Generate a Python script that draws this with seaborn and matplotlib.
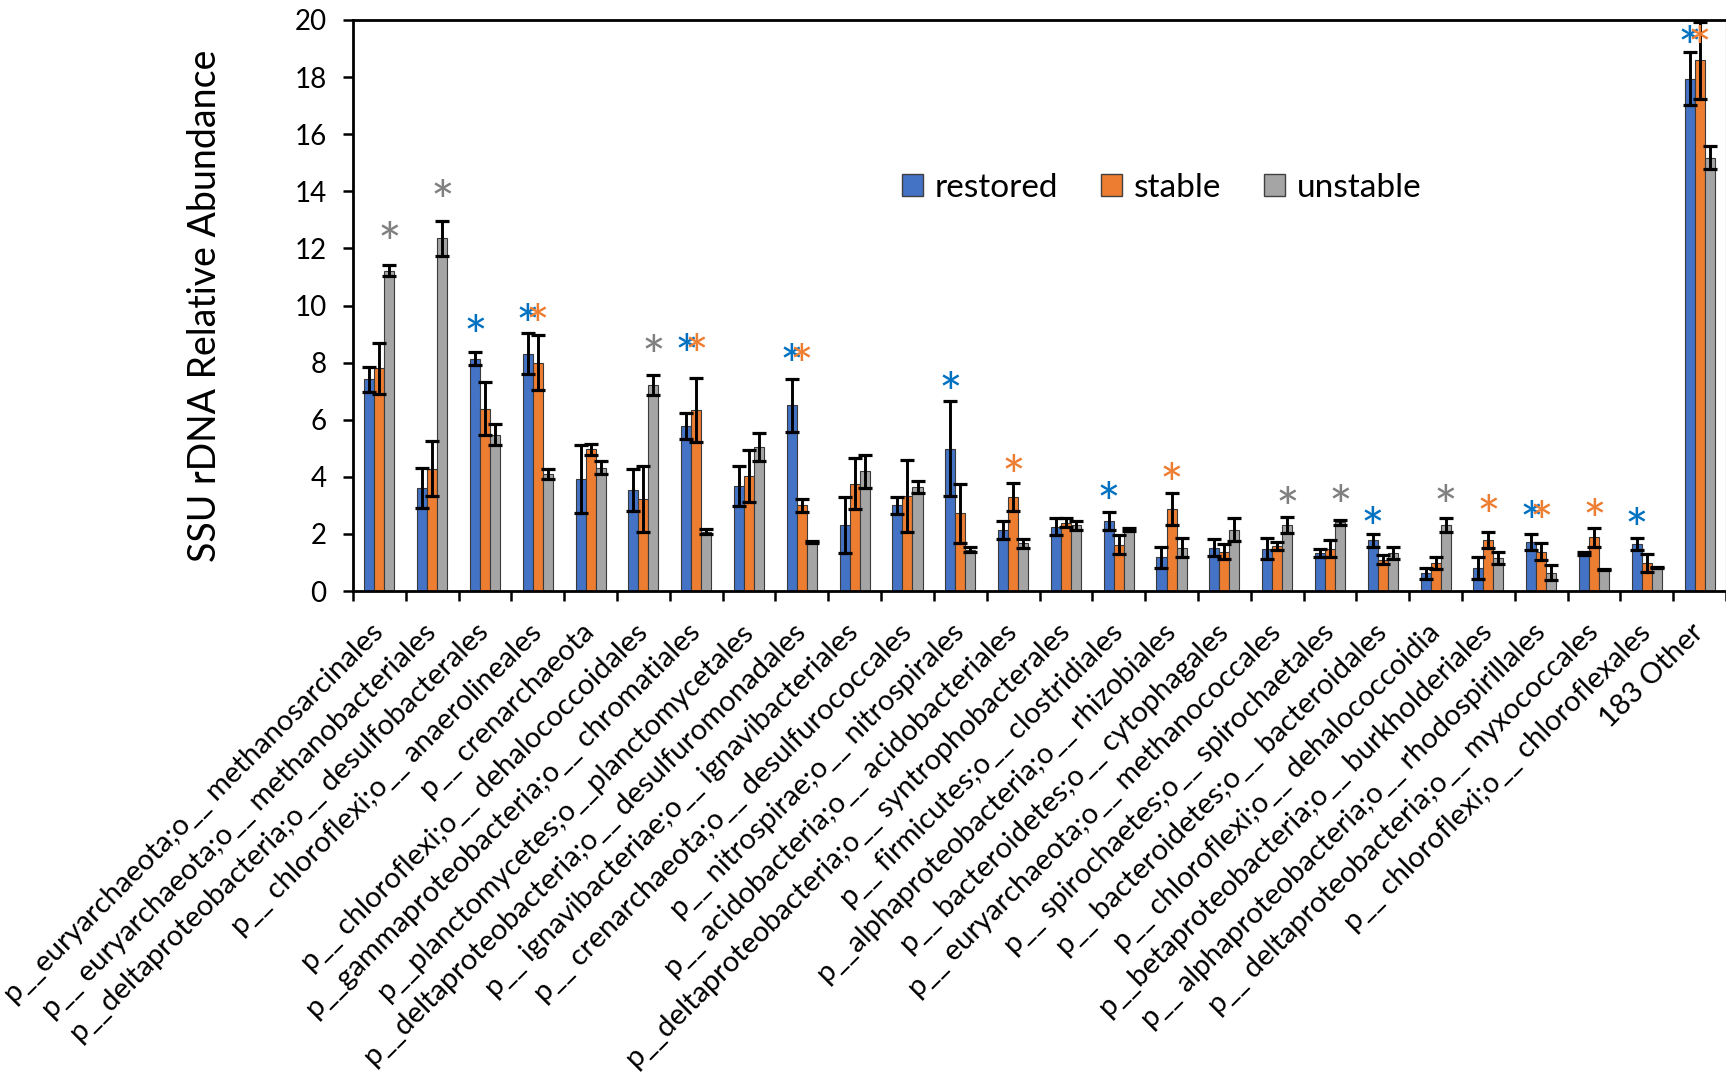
import numpy as np
import pandas as pd
import matplotlib
matplotlib.use("Agg")
import matplotlib.pyplot as plt
import seaborn as sns
from matplotlib.patches import Patch

categories = [
    "p__euryarchaeota;o__ methanosarcinales",
    "p__ euryarchaeota;o__ methanobacteriales",
    "p__deltaproteobacteria;o__ desulfobacterales",
    "p__ chloroflexi;o__ anaerolineales",
    "p__ crenarchaeota",
    "p__ chloroflexi;o__ dehalococcoidales",
    "p__gammaproteobacteria;o__ chromatiales",
    "p__planctomycetes;o__planctomycetales",
    "p__deltaproteobacteria;o__ desulfuromonadales",
    "p__ ignavibacteriae;o__ ignavibacteriales",
    "p__ crenarchaeota;o__ desulfurococcales",
    "p__ nitrospirae;o__ nitrospirales",
    "p__ acidobacteria;o__ acidobacteriales",
    "p__deltaproteobacteria;o__ syntrophobacterales",
    "p__ firmicutes;o__ clostridiales",
    "p__alphaproteobacteria;o__ rhizobiales",
    "p__ bacteroidetes;o__ cytophagales",
    "p__ euryarchaeota;o__ methanococcales",
    "p__ spirochaetes;o__ spirochaetales",
    "p__ bacteroidetes;o__ bacteroidales",
    "p__ chloroflexi;o__ dehalococcoidia",
    "p__betaproteobacteria;o__ burkholderiales",
    "p__ alphaproteobacteria;o__ rhodospirillales",
    "p__ deltaproteobacteria;o__ myxococcales",
    "p__ chloroflexi;o__ chloroflexales",
    "183 Other",
]
groups = ["restored", "stable", "unstable"]

restored = [7.41, 3.62, 8.14, 8.31, 3.93, 3.54, 5.78, 3.68, 6.50, 2.31, 3.00, 4.99, 2.14,
            2.25, 2.45, 1.18, 1.52, 1.48, 1.33, 1.77, 0.62, 0.80, 1.71, 1.31, 1.65, 17.95]
restored_err = [0.45, 0.70, 0.23, 0.72, 1.20, 0.74, 0.47, 0.70, 0.93, 0.98, 0.29, 1.66, 0.31,
                0.29, 0.33, 0.36, 0.30, 0.37, 0.14, 0.23, 0.20, 0.38, 0.27, 0.05, 0.20, 0.94]
stable = [7.80, 4.29, 6.38, 8.00, 4.96, 3.23, 6.34, 4.03, 3.00, 3.76, 3.33, 2.72, 3.29,
          2.39, 1.62, 2.87, 1.38, 1.56, 1.48, 1.10, 0.98, 1.78, 1.38, 1.88, 0.98, 18.59]
stable_err = [0.90, 0.95, 0.93, 0.95, 0.20, 1.15, 1.13, 0.90, 0.23, 0.90, 1.26, 1.04, 0.50,
              0.15, 0.33, 0.57, 0.27, 0.14, 0.29, 0.17, 0.22, 0.27, 0.31, 0.33, 0.33, 1.34]
unstable = [11.22, 12.35, 5.48, 4.11, 4.32, 7.23, 2.08, 5.04, 1.72, 4.20, 3.65, 1.45, 1.67,
            2.30, 2.15, 1.52, 2.15, 2.30, 2.40, 1.33, 2.32, 1.14, 0.64, 0.75, 0.82, 15.18]
unstable_err = [0.20, 0.60, 0.37, 0.17, 0.23, 0.35, 0.08, 0.50, 0.04, 0.58, 0.20, 0.10, 0.16,
                0.15, 0.05, 0.33, 0.39, 0.28, 0.08, 0.21, 0.24, 0.21, 0.26, 0.03, 0.03, 0.40]

# significance markers (category indices) per group
sig_restored = [2, 3, 6, 8, 11, 14, 19, 22, 24, 25]
sig_stable = [3, 6, 8, 12, 15, 21, 22, 23, 25]
sig_unstable = [0, 1, 5, 17, 18, 20]
# height of the asterisks for each category (None = no asterisk)
star_level = [12.6, 14.1, 9.37, 9.74, None, 8.66, 8.69, None, 8.34, None, None, 7.35, 4.46,
              None, 3.5, 4.19, None, 3.35, 3.4, 2.65, 3.39, 3.05, 2.85, 2.92, 2.6, 19.49]

bar_colors = ["#4472C4", "#ED7D31", "#A5A5A5"]
star_colors = ["#0070C0", "#ED7D31", "#7F7F7F"]

plt.rcParams["font.family"] = ["Lato", "DejaVu Sans"]

df = pd.DataFrame({
    "category": categories * 3,
    "group": [g for g in groups for _ in categories],
    "value": restored + stable + unstable,
})

W, H = 1726, 1087
fig = plt.figure(figsize=(W / 100, H / 100), dpi=100)
ax = fig.add_axes([353 / W, 1 - 591 / H, (W - 353) / W, (591 - 20) / H])

sns.barplot(data=df, x="category", y="value", hue="group", order=categories,
            hue_order=groups, palette=bar_colors, width=0.57, gap=0, errorbar=None,
            edgecolor="#3a3a3a", linewidth=0.8, saturation=1, legend=False, ax=ax)
bar_conts = list(ax.containers)

errs = [restored_err, stable_err, unstable_err]
sigs = [sig_restored, sig_stable, sig_unstable]
star_fs = 40
for k, cont in enumerate(bar_conts):
    xs = [p.get_x() + p.get_width() / 2 for p in cont.patches]
    hs = [p.get_height() for p in cont.patches]
    ax.errorbar(xs, hs, yerr=errs[k], fmt="none", ecolor="black", elinewidth=2.1,
                capsize=5, capthick=2.3, zorder=3)
for k, cont in enumerate(bar_conts):
    for i in sigs[k]:
        p = cont.patches[i]
        x = p.get_x() + p.get_width() / 2
        ax.annotate("*", (x, star_level[i]), xytext=(0, -0.58 * star_fs),
                    textcoords="offset points", ha="center", va="baseline",
                    fontsize=star_fs, color=star_colors[k], zorder=4)

ax.set_ylim(0, 20)
ax.set_xlim(-0.5, len(categories) - 0.5)
ax.set_yticks(np.arange(0, 21, 2))
ax.tick_params(axis="y", direction="out", length=7, width=1.8, labelsize=20, pad=12, left=True)
ax.set_xticks(range(len(categories)))
ax.set_xticklabels(categories, rotation=45, ha="right", va="center",
                   rotation_mode="anchor", fontsize=21)
ax.tick_params(axis="x", which="major", length=0, pad=27, bottom=True)
ax.set_xticks(np.arange(-0.5, len(categories), 1), minor=True)
ax.tick_params(axis="x", which="minor", direction="out", length=7, width=1.8, bottom=True)
ax.set_xlabel("")
ax.set_ylabel("SSU rDNA Relative Abundance", fontsize=27)
ax.yaxis.set_label_coords(-0.095, 0.5)

for s in ["left", "bottom", "top"]:
    ax.spines[s].set_linewidth(2)
    ax.spines[s].set_color("black")
ax.spines["right"].set_color("#d9d9d9")
ax.spines["right"].set_linewidth(1)

handles = [Patch(facecolor=c, edgecolor="#404040", linewidth=1) for c in bar_colors]
ax.legend(handles, groups, loc="center left", bbox_to_anchor=(0.40, 0.706), ncol=3,
          frameon=False, fontsize=24, handlelength=0.62, handleheight=0.62,
          handletextpad=0.35, columnspacing=1.3, borderaxespad=0, borderpad=0)

fig.savefig("out.png", dpi=100)
